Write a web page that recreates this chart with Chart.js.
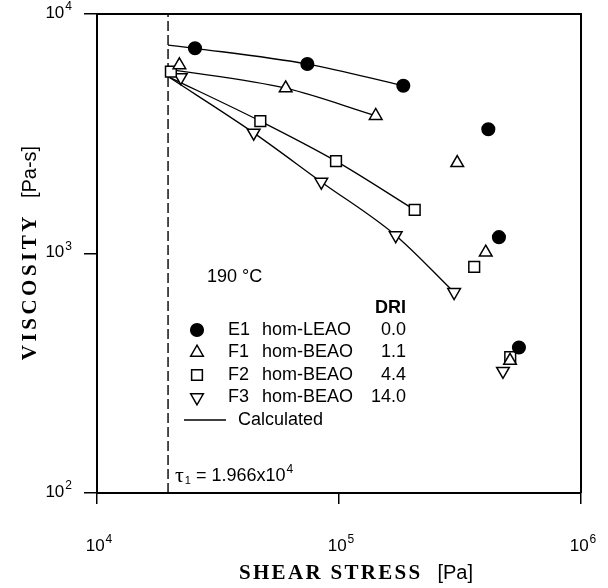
<!DOCTYPE html>
<html><head><meta charset="utf-8">
<script src="https://cdn.jsdelivr.net/npm/chart.js@4.4.1/dist/chart.umd.min.js"></script>
<style>html,body{margin:0;padding:0;background:#fff;}#wrap{width:608px;height:588px;position:relative;}</style>
</head><body><div id="wrap"><canvas id="c" width="608" height="588"></canvas></div>
<script>
// ---- data ----
const xTicks = [1e4, 1e5, 1e6];
const yTicks = [1e2, 1e3, 1e4];
const tau1 = 1.966e4;

const e1X = [2.54e4, 7.40e4, 1.844e5, 4.14e5, 4.58e5, 5.54e5];
const e1Y = [7190, 6180, 5020, 3300, 1170, 405];
const f1X = [2.19e4, 6.02e4, 1.418e5, 3.08e5, 4.04e5, 5.09e5];
const f1Y = [6120, 4900, 3760, 2390, 1010, 357];
const f2X = [2.02e4, 4.73e4, 9.72e4, 2.055e5, 3.62e5, 5.10e5];
const f2Y = [5740, 3570, 2430, 1520, 880, 369];
const f3X = [2.22e4, 4.44e4, 8.45e4, 1.715e5, 2.99e5, 4.76e5];
const f3Y = [5440, 3190, 1990, 1190, 689, 323];

const calcE1X = [1.966e4, 2.54e4, 7.40e4, 1.844e5];
const calcE1Y = [7420, 7190, 6180, 5020];
const calcF1X = [1.966e4, 6.02e4, 1.418e5];
const calcF1Y = [5890, 4900, 3760];
const calcF2X = [1.966e4, 4.73e4, 9.72e4, 2.055e5];
const calcF2Y = [5480, 3570, 2430, 1520];
const calcF3X = [1.966e4, 4.44e4, 8.45e4, 1.715e5, 2.99e5];
const calcF3Y = [5480, 3190, 1990, 1190, 689];

const seriesCodes = ['E1', 'F1', 'F2', 'F3'];
const seriesNames = ['hom-LEAO', 'hom-BEAO', 'hom-BEAO', 'hom-BEAO'];
const seriesDRI = ['0.0', '1.1', '4.4', '14.0'];
const tempLabel = '190 °C';
const calcLabel = 'Calculated';

const zip = (xs, ys) => xs.map((x, i) => ({x: x, y: ys[i]}));

const markerStyles = [
  {pointStyle: 'circle', rotation: 0, radius: 6.3, fill: '#000'},
  {pointStyle: 'triangle', rotation: 0, radius: 7.3, fill: '#fff'},
  {pointStyle: 'rect', rotation: 0, radius: 7.6, fill: '#fff'},
  {pointStyle: 'triangle', rotation: 180, radius: 7.3, fill: '#fff'}
];
const pts = [zip(e1X, e1Y), zip(f1X, f1Y), zip(f2X, f2Y), zip(f3X, f3Y)];
const calcs = [zip(calcE1X, calcE1Y), zip(calcF1X, calcF1Y), zip(calcF2X, calcF2Y), zip(calcF3X, calcF3Y)];

const datasets = [];
datasets.push({
  data: [{x: tau1, y: yTicks[0]}, {x: tau1, y: yTicks[2]}],
  showLine: true, borderColor: '#000', borderWidth: 1.4, borderDash: [10, 4],
  pointRadius: 0, order: 10
});
calcs.forEach(c => datasets.push({
  data: c, showLine: true, borderColor: '#000', borderWidth: 1.3,
  pointRadius: 0, cubicInterpolationMode: 'monotone', order: 5
}));
pts.forEach((p, i) => datasets.push({
  data: p, showLine: false,
  pointStyle: markerStyles[i].pointStyle,
  rotation: markerStyles[i].rotation,
  pointRadius: markerStyles[i].radius,
  backgroundColor: markerStyles[i].fill,
  borderColor: '#000', pointBorderWidth: 1.5, order: 1
}));

function drawMarker(ctx, st, x, y) {
  const r = st.radius;
  ctx.save();
  ctx.lineWidth = 1.5; ctx.strokeStyle = '#000'; ctx.fillStyle = st.fill;
  ctx.beginPath();
  if (st.pointStyle === 'circle') {
    ctx.arc(x, y, r, 0, Math.PI * 2);
  } else if (st.pointStyle === 'rect') {
    const s = r * Math.SQRT1_2;
    ctx.rect(x - s, y - s, 2 * s, 2 * s);
  } else {
    let a = st.rotation * Math.PI / 180;
    ctx.moveTo(x + Math.sin(a) * r, y - Math.cos(a) * r);
    a += 2 * Math.PI / 3;
    ctx.lineTo(x + Math.sin(a) * r, y - Math.cos(a) * r);
    a += 2 * Math.PI / 3;
    ctx.lineTo(x + Math.sin(a) * r, y - Math.cos(a) * r);
    ctx.closePath();
  }
  ctx.fill(); ctx.stroke();
  ctx.restore();
}

const SANS = '"Liberation Sans", Arial, Helvetica, sans-serif';
const SERIF = '"Liberation Serif", "Times New Roman", serif';

function powWidth(ctx, exp) {
  ctx.font = '17px ' + SANS; const w1 = ctx.measureText('10').width;
  ctx.font = '12px ' + SANS; const w2 = ctx.measureText(exp).width;
  return w1 + w2 + 1;
}
function drawPow(ctx, exp, x, y) { // x = left, y = middle
  ctx.textBaseline = 'middle'; ctx.textAlign = 'left';
  ctx.font = '17px ' + SANS; ctx.fillText('10', x, y);
  const w1 = ctx.measureText('10').width;
  ctx.font = '12px ' + SANS; ctx.fillText(exp, x + w1 + 1, y - 6);
}

const overlay = {
  id: 'overlay',
  afterDraw(chart) {
    const ctx = chart.ctx, a = chart.chartArea;
    const xs = chart.scales.x, ys = chart.scales.y;
    ctx.save();
    ctx.fillStyle = '#000'; ctx.strokeStyle = '#000';
    // frame top/right
    ctx.lineWidth = 2;
    ctx.beginPath();
    ctx.moveTo(a.left, a.top); ctx.lineTo(a.right, a.top); ctx.lineTo(a.right, a.bottom);
    ctx.stroke();
    // tick labels
    xTicks.forEach(v => {
      const e = String(Math.round(Math.log10(v)));
      const w = powWidth(ctx, e);
      drawPow(ctx, e, xs.getPixelForValue(v) - w / 2 + 2, 546);
    });
    yTicks.forEach(v => {
      const e = String(Math.round(Math.log10(v)));
      const w = powWidth(ctx, e);
      drawPow(ctx, e, 72 - w, ys.getPixelForValue(v) - 1);
    });
    // x title
    ctx.textBaseline = 'middle'; ctx.textAlign = 'left';
    const gap = 15;
    ctx.font = 'bold 21px ' + SERIF; ctx.letterSpacing = '2.3px';
    const t1 = 'SHEAR STRESS'; const w1 = ctx.measureText(t1).width;
    ctx.letterSpacing = '0px';
    ctx.font = '20px ' + SANS; const t2 = '[Pa]'; const w2 = ctx.measureText(t2).width;
    let x0 = 356 - (w1 + gap + w2) / 2;
    ctx.font = 'bold 21px ' + SERIF; ctx.letterSpacing = '2.3px';
    ctx.fillText(t1, x0, 574);
    ctx.letterSpacing = '0px';
    ctx.font = '20px ' + SANS; ctx.fillText(t2, x0 + w1 + gap, 573);
    // y title
    ctx.save();
    ctx.translate(31, 253); ctx.rotate(-Math.PI / 2);
    ctx.font = 'bold 21px ' + SERIF; ctx.letterSpacing = '3.5px';
    const t3 = 'VISCOSITY'; const w3 = ctx.measureText(t3).width;
    ctx.letterSpacing = '0px';
    ctx.font = '20px ' + SANS; const t4 = '[Pa-s]'; const w4 = ctx.measureText(t4).width;
    x0 = -(w3 + gap + w4) / 2;
    ctx.font = 'bold 21px ' + SERIF; ctx.letterSpacing = '3.5px';
    ctx.fillText(t3, x0, 0);
    ctx.letterSpacing = '0px';
    ctx.font = '20px ' + SANS; ctx.fillText(t4, x0 + w3 + gap, -1);
    ctx.restore();
    // temperature
    ctx.font = '18px ' + SANS; ctx.textAlign = 'left'; ctx.textBaseline = 'middle';
    ctx.fillText(tempLabel, 207, 277);
    // legend
    ctx.font = 'bold 18px ' + SANS; ctx.textAlign = 'right';
    ctx.fillText('DRI', 406, 308);
    const rowY = [330, 352.5, 375, 397.5];
    seriesCodes.forEach((c, i) => {
      drawMarker(ctx, markerStyles[i], 197, rowY[i]);
      ctx.fillStyle = '#000';
      ctx.font = '18px ' + SANS; ctx.textAlign = 'left';
      ctx.fillText(c, 228, rowY[i]);
      ctx.fillText(seriesNames[i], 262, rowY[i]);
      ctx.textAlign = 'right';
      ctx.fillText(seriesDRI[i], 406, rowY[i]);
    });
    ctx.lineWidth = 1.3;
    ctx.beginPath(); ctx.moveTo(184, 420); ctx.lineTo(226, 420); ctx.stroke();
    ctx.textAlign = 'left';
    ctx.fillText(calcLabel, 238, 420);
    // tau label
    let tx = 175; const ty = 476;
    ctx.font = '22px ' + SERIF; ctx.fillText('τ', tx, ty);
    tx += ctx.measureText('τ').width + 1;
    ctx.font = '11px ' + SANS; ctx.fillText('1', tx, ty + 5);
    tx += ctx.measureText('1').width;
    ctx.font = '18px ' + SANS; const tv = ' = ' + (tau1 / 1e4).toFixed(3) + 'x10';
    ctx.fillText(tv, tx, ty);
    tx += ctx.measureText(tv).width + 1;
    ctx.font = '12px ' + SANS; ctx.fillText('4', tx, ty - 6);
    ctx.restore();
  }
};

new Chart(document.getElementById('c'), {
  type: 'scatter',
  data: {datasets: datasets},
  options: {
    responsive: false, animation: false, devicePixelRatio: 1,
    layout: {padding: {top: 14, right: 27, left: 0, bottom: 0}},
    plugins: {legend: {display: false}, tooltip: {enabled: false}},
    scales: {
      x: {
        type: 'logarithmic', min: 1e4, max: 1e6,
        afterBuildTicks: s => { s.ticks = xTicks.map(v => ({value: v})); },
        afterFit: s => { s.height = 95; },
        ticks: {display: false},
        grid: {display: true, drawOnChartArea: false, drawTicks: true, tickLength: 11, color: '#000', lineWidth: 1.5},
        border: {display: true, color: '#000', width: 2}
      },
      y: {
        type: 'logarithmic', min: 1e2, max: 1e4,
        afterBuildTicks: s => { s.ticks = yTicks.map(v => ({value: v})); },
        afterFit: s => { s.width = 97; },
        ticks: {display: false},
        grid: {display: true, drawOnChartArea: false, drawTicks: true, tickLength: 13, color: '#000', lineWidth: 1.5},
        border: {display: true, color: '#000', width: 2}
      }
    }
  },
  plugins: [overlay]
});
</script></body></html>
